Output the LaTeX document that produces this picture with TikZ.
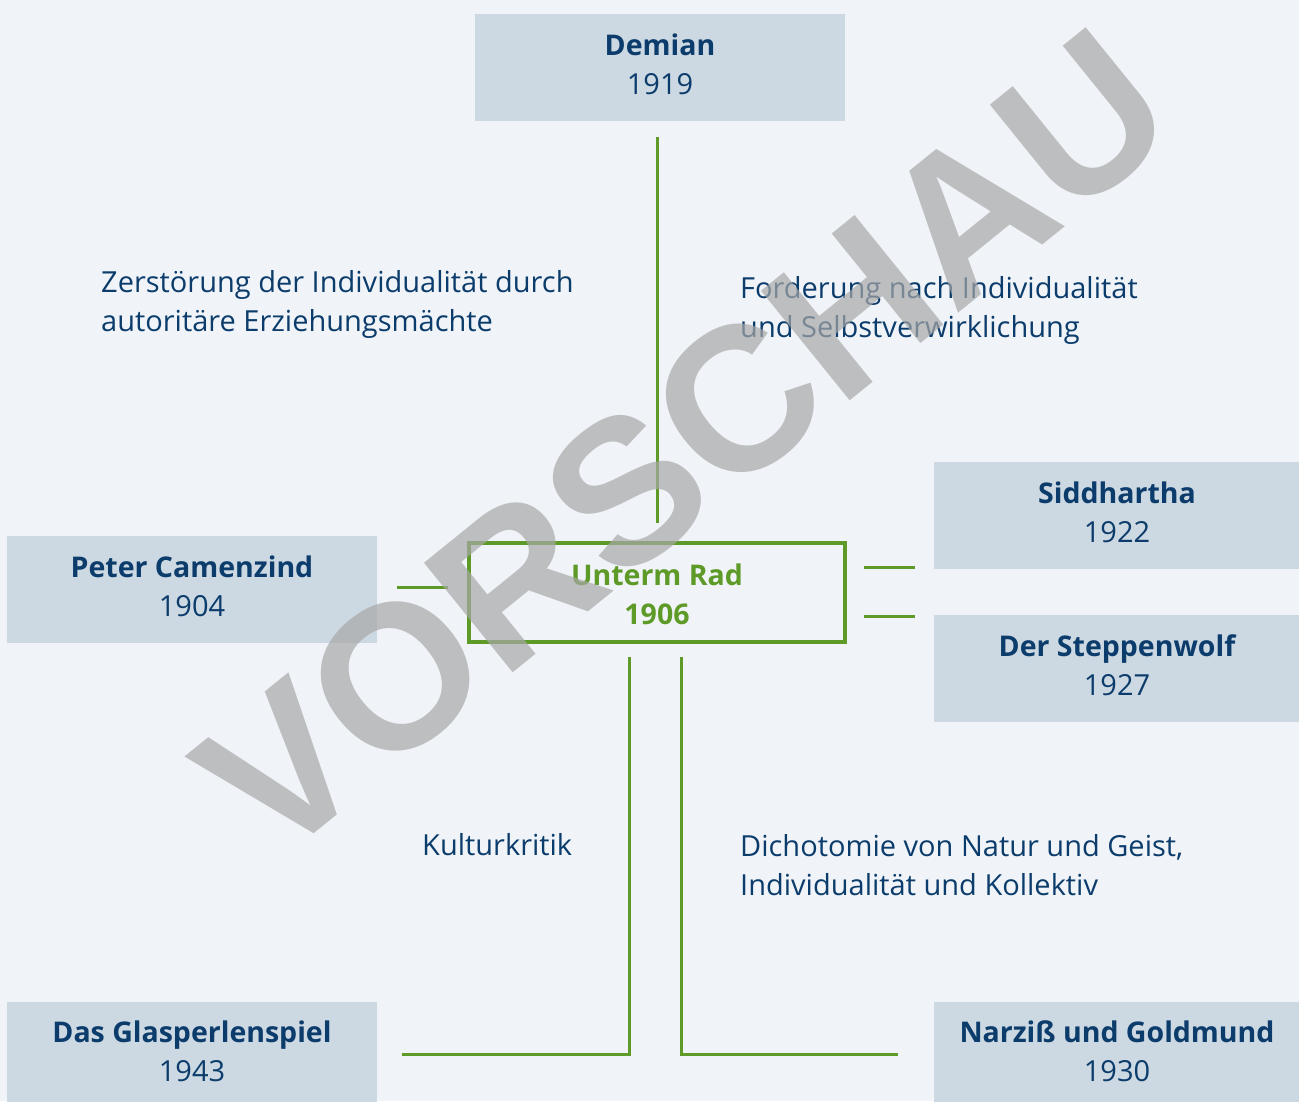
\documentclass[tikz,border=0pt]{standalone}
\usepackage{fontspec}
\setmainfont{Open Sans}
\newfontfamily\wmfont{Liberation Sans}
\definecolor{bgc}{HTML}{F0F4F8}
\definecolor{boxc}{HTML}{CCD8E2}
\definecolor{txtc}{HTML}{0B3C6B}
\definecolor{grn}{HTML}{5E9A28}
\definecolor{wmc}{HTML}{A8A8A8}
\newcommand{\bk}[1]{{\fontsize{28.5}{39}\selectfont\bfseries #1}}
\tikzset{
  book/.style={fill=boxc, inner sep=0pt, minimum width=370pt, minimum height=107pt, align=center, text=txtc, font=\fontsize{29}{39}\selectfont, text height=60pt, text depth=5.5pt},
  lbl/.style={anchor=west, align=left, inner sep=0pt, text=txtc, font=\fontsize{29}{39}\selectfont},
  link/.style={draw=grn, line width=3pt},
}
\begin{document}
\begin{tikzpicture}[x=1pt,y=-1pt]
\useasboundingbox (0,0) rectangle (1299,1101);
\fill[bgc] (0,0) rectangle (1299,1101);
% boxes
\node[book] (demian) at (660,67.5) {\bk{Demian}\\1919};
\node[book] (cam) at (192,589) {\bk{Peter Camenzind}\\1904};
\node[book, minimum width=366pt] (sidd) at (1117,515.5) {\bk{Siddhartha}\\1922};
\node[book, minimum width=366pt] (steppen) at (1117,668) {\bk{Der Steppenwolf}\\1927};
\node[book, minimum height=104pt] (glas) at (192,1054) {\bk{Das Glasperlenspiel}\\1943};
\node[book, minimum width=366pt, minimum height=104pt] (narz) at (1117,1054) {\bk{Narziß und Goldmund}\\1930};
\node[draw=grn, line width=3.5pt, inner sep=0pt, minimum width=376pt, minimum height=99pt, align=center, text=grn, font=\bfseries\fontsize{28.5}{39}\selectfont, text height=68pt, text depth=4.5pt] (rad) at (657,592.5) {Unterm Rad\\1906};
% labels
\node[lbl] (l1) at (101,304.5) {Zerstörung der Individualität durch\\autoritäre Erziehungsmächte};
\node[lbl] (l2) at (740,310.5) {Forderung nach Individualität\\und Selbstverwirklichung};
\node[lbl] (l3) at (422,845) {Kulturkritik};
\node[lbl] (l4) at (740,865.5) {Dichotomie von Natur und Geist,\\Individualität und Kollektiv};
% connector end points
\coordinate (d1) at (657,137);
\coordinate (d2) at (657,523);
\coordinate (c1) at (397,587);
\coordinate (c2) at (448,587);
\coordinate (s1) at (864,567);
\coordinate (s2) at (915,567);
\coordinate (w1) at (864,616);
\coordinate (w2) at (915,616);
\coordinate (g1) at (629,657);
\coordinate (g2) at (402,1054);
\coordinate (n1) at (681,657);
\coordinate (n2) at (898,1054);
\draw[link] (d1) -- (d2);
\draw[link] (c1) -- (c2);
\draw[link] (s1) -- (s2);
\draw[link] (w1) -- (w2);
\draw[link] (g1) |- (g2);
\draw[link] (n1) |- (n2);
% watermark
\node[rotate=39, text=wmc, opacity=0.7, inner sep=0pt, font=\wmfont\bfseries\fontsize{205}{205}\selectfont] (wm) at (684,444) {VORSCHAU};
\end{tikzpicture}
\end{document}
